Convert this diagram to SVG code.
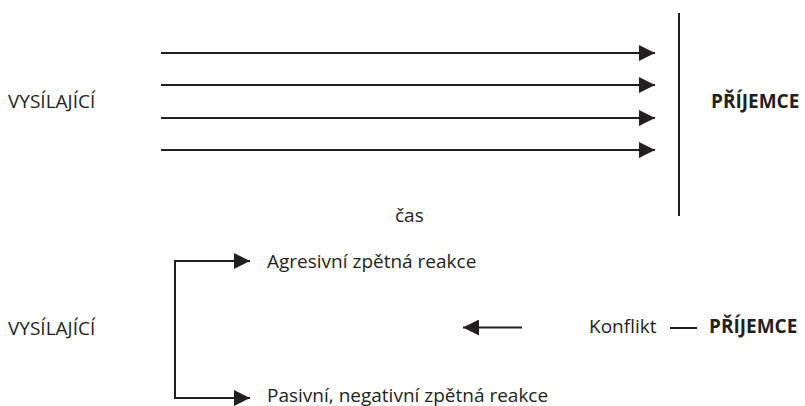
<svg xmlns="http://www.w3.org/2000/svg" width="805" height="406" viewBox="0 0 805 406">
<defs>
<style>
.t{font-family:"Open Sans","Noto Sans",sans-serif;font-size:19px;fill:#231f20}
.b{font-weight:bold}
.ln{stroke:#231f20;stroke-width:2;fill:none}
</style>
<marker id="ah" markerUnits="userSpaceOnUse" markerWidth="18" markerHeight="16" refX="16" refY="8" orient="auto">
<path d="M0,0 L16,8 L0,16 Z" fill="#231f20"/>
</marker>
</defs>
<rect width="805" height="406" fill="#fff"/>
<g id="connectors">
<line class="ln" x1="161" y1="53" x2="655" y2="53" marker-end="url(#ah)"/>
<line class="ln" x1="161" y1="85" x2="655" y2="85" marker-end="url(#ah)"/>
<line class="ln" x1="161" y1="118" x2="655" y2="118" marker-end="url(#ah)"/>
<line class="ln" x1="161" y1="150" x2="655" y2="150" marker-end="url(#ah)"/>
<line class="ln" x1="679" y1="13" x2="679" y2="216" stroke-width="2.5"/>
<path class="ln" d="M240,261 H175 V398 H240"/>
<line class="ln" x1="175" y1="261" x2="250" y2="261" marker-end="url(#ah)"/>
<line class="ln" x1="175" y1="398" x2="250" y2="398" marker-end="url(#ah)"/>
<line class="ln" x1="522" y1="327.5" x2="463" y2="327.5" marker-end="url(#ah)"/>
<line class="ln" x1="670" y1="328" x2="697" y2="328"/>
</g>
<g id="sender-top"><text class="t" x="8" y="108">VYSÍLAJÍCÍ</text></g>
<g id="receiver-top"><text class="t b" x="711" y="108">PŘÍJEMCE</text></g>
<g id="time"><text class="t" x="395" y="222">čas</text></g>
<g id="aggressive"><text class="t" x="267" y="268">Agresivní zpětná reakce</text></g>
<g id="passive"><text class="t" x="267" y="402">Pasivní, negativní zpětná reakce</text></g>
<g id="sender-bottom"><text class="t" x="8" y="335">VYSÍLAJÍCÍ</text></g>
<g id="conflict"><text class="t" x="589" y="333">Konflikt</text></g>
<g id="receiver-bottom"><text class="t b" x="709" y="333">PŘÍJEMCE</text></g>
</svg>
